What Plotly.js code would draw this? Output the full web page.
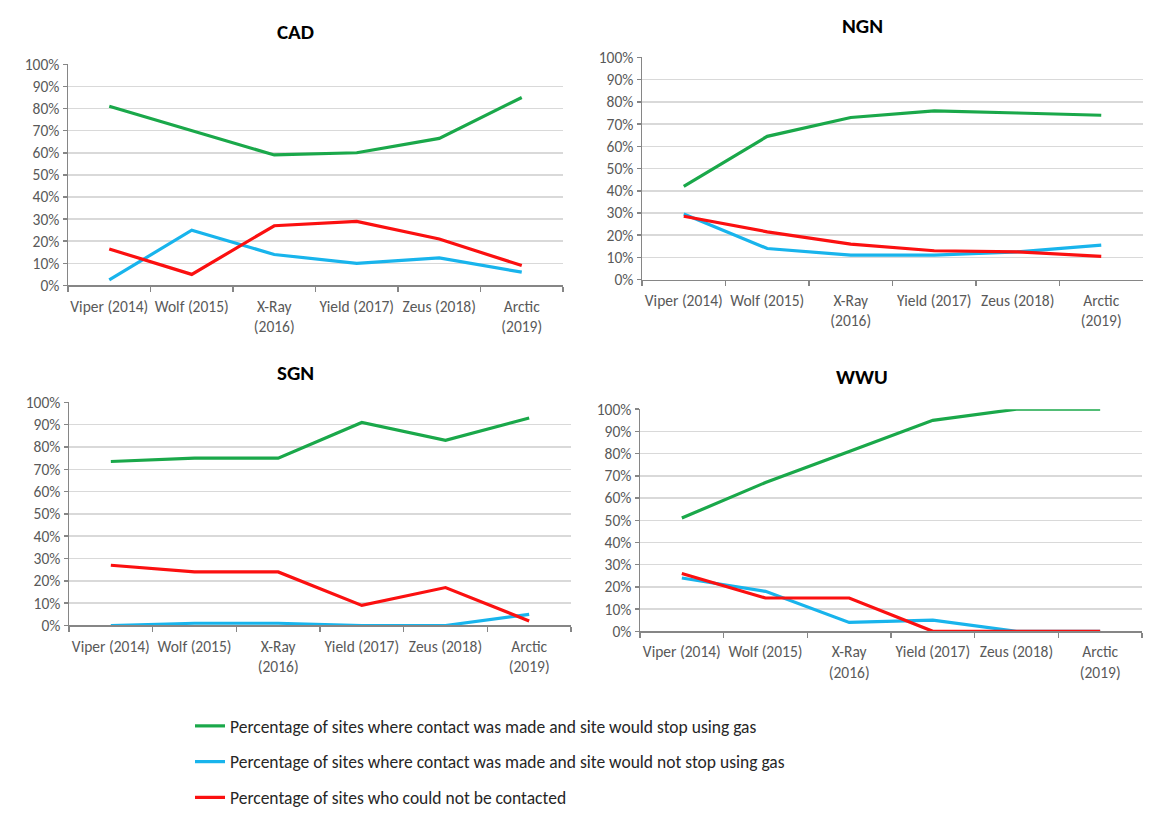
<!DOCTYPE html>
<html>
<head>
<meta charset="utf-8">
<script src="https://cdn.plot.ly/plotly-3.0.1.min.js"></script>
<style>html,body{margin:0;padding:0;background:#fff;}#chart{width:1150px;height:816px;}</style>
</head>
<body>
<div id="chart"></div>
<script>
const categories = ["Viper (2014)", "Wolf (2015)", "X-Ray<br>(2016)", "Yield (2017)", "Zeus (2018)", "Arctic<br>(2019)"];
const seriesNames = [
  "Percentage of sites where contact was made and site would stop using gas",
  "Percentage of sites where contact was made and site would not stop using gas",
  "Percentage of sites who could not be contacted"
];
const seriesColors = ["#1aa84a", "#18b4ec", "#fb1010"];
const panelTitles = ["CAD", "NGN", "SGN", "WWU"];

const cadStop    = [0.81, 0.70, 0.59, 0.60, 0.665, 0.85];
const cadNotStop = [0.025, 0.25, 0.14, 0.10, 0.125, 0.06];
const cadNoContact = [0.165, 0.05, 0.27, 0.29, 0.21, 0.09];

const ngnStop    = [0.42, 0.645, 0.73, 0.76, 0.75, 0.74];
const ngnNotStop = [0.295, 0.14, 0.11, 0.11, 0.125, 0.155];
const ngnNoContact = [0.285, 0.215, 0.16, 0.13, 0.125, 0.105];

const sgnStop    = [0.735, 0.75, 0.75, 0.91, 0.83, 0.93];
const sgnNotStop = [0.0, 0.01, 0.01, 0.0, 0.0, 0.05];
const sgnNoContact = [0.27, 0.24, 0.24, 0.09, 0.17, 0.02];

const wwuStop    = [0.51, 0.67, 0.81, 0.95, 1.0, 1.0];
const wwuNotStop = [0.24, 0.18, 0.04, 0.05, 0.0, 0.0];
const wwuNoContact = [0.26, 0.15, 0.15, 0.0, 0.0, 0.0];

const panels = [
  [cadStop, cadNotStop, cadNoContact],
  [ngnStop, ngnNotStop, ngnNoContact],
  [sgnStop, sgnNotStop, sgnNoContact],
  [wwuStop, wwuNotStop, wwuNoContact]
];

const W = 1150, H = 816;
// pixel boxes [left, right, top, bottom]
const boxes = [
  [68, 563, 66, 293],
  [642, 1143, 59, 287],
  [69, 571, 413, 642],
  [640, 1142, 420, 648]
];
const titlePos = [[295, 33], [862, 27], [295, 383], [862, 387]];

const FONT = "Calibri, Carlito, Lato, 'Open Sans', sans-serif";
const data = [];
const layout = {
  width: W, height: H,
  margin: {l: 0, r: 0, t: 0, b: 0},
  paper_bgcolor: "#ffffff",
  plot_bgcolor: "rgba(0,0,0,0)",
  font: {family: FONT, size: 15, color: "#595959"},
  showlegend: true,
  legend: {
    x: 190 / W, y: 1 - 727 / H, xanchor: "left", yanchor: "top",
    orientation: "v", tracegroupgap: 10,
    font: {family: FONT, size: 17.5, color: "#262626"},
    bgcolor: "rgba(0,0,0,0)"
  },
  annotations: [],
  shapes: []
};

panels.forEach((series, p) => {
  const ax = p === 0 ? "" : String(p + 1);
  series.forEach((vals, s) => {
    data.push({
      type: "scatter", mode: "lines",
      x: categories, y: vals,
      xaxis: "x" + ax, yaxis: "y" + ax,
      name: seriesNames[s],
      legendgroup: "g" + s,
      showlegend: p === 0,
      line: {color: seriesColors[s], width: 3.2},
      cliponaxis: false,
      hoverinfo: "skip"
    });
  });
  const b = boxes[p];
  layout["xaxis" + ax] = {
    domain: [b[0] / W, b[1] / W],
    anchor: "y" + ax,
    type: "category",
    range: [-0.5, 5.5],
    tickson: "boundaries",
    tickangle: 0,
    ticks: "outside", ticklen: 5, tickcolor: "#868686", tickwidth: 1.5,
    ticklabelstandoff: 6,
    showline: true, linecolor: "#868686", linewidth: 1.5,
    showgrid: false, zeroline: false,
    tickfont: {family: FONT, size: 15.5, color: "#595959"},
    fixedrange: true
  };
  layout["yaxis" + ax] = {
    domain: [1 - b[3] / H, 1 - b[2] / H],
    anchor: "x" + ax,
    range: [0, 1],
    dtick: 0.1, tick0: 0,
    tickformat: ".0%",
    ticks: "outside", ticklen: 4, tickcolor: "#868686", tickwidth: 1.5,
    showline: true, linecolor: "#868686", linewidth: 1.5,
    showgrid: true, gridcolor: "#d9d9d9", gridwidth: 1.5,
    zeroline: false,
    tickfont: {family: FONT, size: 15.5, color: "#595959"},
    fixedrange: true
  };
  layout.annotations.push({
    xref: "paper", yref: "paper",
    x: titlePos[p][0] / W, y: 1 - titlePos[p][1] / H,
    xanchor: "center", yanchor: "middle",
    text: "<b>" + panelTitles[p] + "</b>",
    showarrow: false,
    font: {family: FONT, size: 21, color: "#000000"}
  });
});

Plotly.newPlot("chart", data, layout, {displayModeBar: false, staticPlot: true});
</script>
</body>
</html>
